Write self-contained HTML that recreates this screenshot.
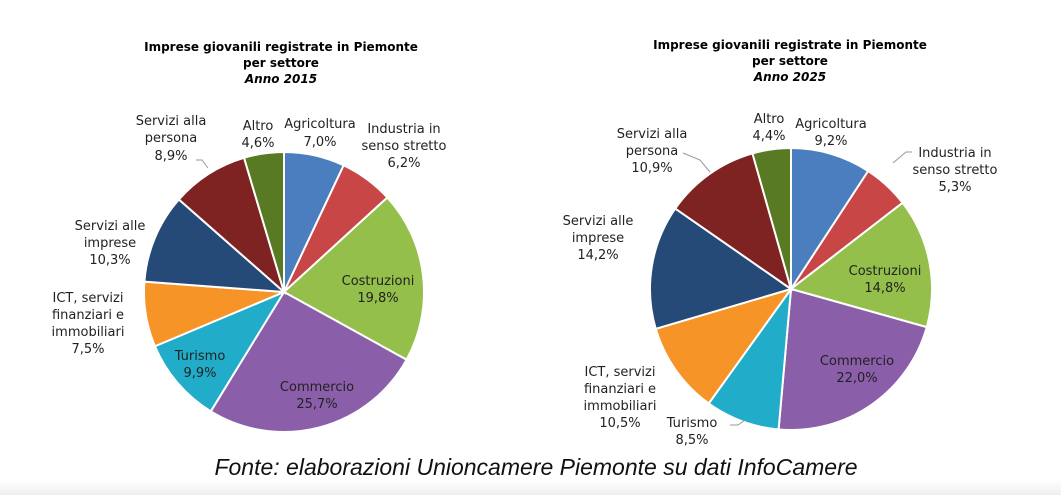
<!DOCTYPE html>
<html><head><meta charset="utf-8"><style>
html,body{margin:0;padding:0;background:#fff;}
body{width:1061px;height:495px;overflow:hidden;position:relative;}
svg{position:absolute;left:0;top:0;}
.t{font-family:"DejaVu Sans","Liberation Sans",sans-serif;font-weight:bold;font-size:12px;text-anchor:middle;fill:#000;}
.l{font-family:"DejaVu Sans","Liberation Sans",sans-serif;font-size:13px;text-anchor:middle;fill:#222;}
.f{font-family:"Liberation Sans",sans-serif;font-style:italic;font-size:23px;text-anchor:middle;fill:#111;}
</style></head><body>
<svg id="s" width="1061" height="495" xmlns="http://www.w3.org/2000/svg">
<defs><linearGradient id="bg" x1="0" y1="0" x2="0" y2="1"><stop offset="0" stop-color="#fff"/><stop offset="1" stop-color="#efefef"/></linearGradient></defs>
<rect x="0" y="480" width="1061" height="15" fill="url(#bg)"/>
<g id="p1"></g><g id="p2"></g>
<text class="t" x="281" y="51">Imprese giovanili registrate in Piemonte</text>
<text class="t" x="281" y="67">per settore</text>
<text class="t" x="281" y="83" font-style="italic">Anno 2015</text>
<text class="t" x="790" y="49">Imprese giovanili registrate in Piemonte</text>
<text class="t" x="790" y="65">per settore</text>
<text class="t" x="790" y="81" font-style="italic">Anno 2025</text>
<g class="l">
<text x="320" y="128">Agricoltura</text><text x="320" y="146">7,0%</text>
<text x="404" y="133">Industria in</text><text x="404" y="150">senso stretto</text><text x="404" y="167">6,2%</text>
<text x="378" y="285">Costruzioni</text><text x="378" y="302">19,8%</text>
<text x="317" y="391">Commercio</text><text x="317" y="408">25,7%</text>
<text x="200" y="360">Turismo</text><text x="200" y="377">9,9%</text>
<text x="88" y="302">ICT, servizi</text><text x="88" y="319">finanziari e</text><text x="88" y="336">immobiliari</text><text x="88" y="353">7,5%</text>
<text x="110" y="230">Servizi alle</text><text x="110" y="247">imprese</text><text x="110" y="264">10,3%</text>
<text x="171" y="125">Servizi alla</text><text x="171" y="142">persona</text><text x="171" y="160">8,9%</text>
<text x="258" y="130">Altro</text><text x="258" y="147">4,6%</text>

<text x="769" y="123">Altro</text><text x="769" y="140">4,4%</text>
<text x="831" y="128">Agricoltura</text><text x="831" y="145">9,2%</text>
<text x="955" y="157">Industria in</text><text x="955" y="174">senso stretto</text><text x="955" y="191">5,3%</text>
<text x="885" y="275">Costruzioni</text><text x="885" y="292">14,8%</text>
<text x="857" y="365">Commercio</text><text x="857" y="382">22,0%</text>
<text x="692" y="427">Turismo</text><text x="692" y="444">8,5%</text>
<text x="620" y="376">ICT, servizi</text><text x="620" y="393">finanziari e</text><text x="620" y="410">immobiliari</text><text x="620" y="427">10,5%</text>
<text x="598" y="225">Servizi alle</text><text x="598" y="242">imprese</text><text x="598" y="259">14,2%</text>
<text x="652" y="138">Servizi alla</text><text x="652" y="155">persona</text><text x="652" y="172">10,9%</text>
</g>
<g stroke="#999" fill="none" stroke-width="1">
<polyline points="196,160 202,160 208,168"/>
<polyline points="683,153 700,160 710,172"/>
<polyline points="912,152 906,152 893,163"/>
<polyline points="730,425 738,425 745,420"/>
</g>
<text class="f" x="536" y="475">Fonte: elaborazioni Unioncamere Piemonte su dati InfoCamere</text>
</svg>
<script>
var cols=["#4a7ebf","#c84646","#94bf4b","#8a5ea8","#21adc9","#f79428","#264a78","#7f2222","#577a22"];
function pie(id,cx,cy,r,v){var g=document.getElementById(id),tot=v.reduce(function(a,b){return a+b},0),a=0,h="";
v.forEach(function(x,i){var a2=a+x/tot*2*Math.PI;var x1=cx+r*Math.sin(a),y1=cy-r*Math.cos(a),x2=cx+r*Math.sin(a2),y2=cy-r*Math.cos(a2);
h+='<path d="M'+cx+','+cy+' L'+x1+','+y1+' A'+r+','+r+' 0 '+((a2-a)>Math.PI?1:0)+' 1 '+x2+','+y2+' Z" fill="'+cols[i]+'" stroke="#fff" stroke-width="2"/>';a=a2;});
g.innerHTML=h;}
pie("p1",284,292,140,[7.0,6.2,19.8,25.7,9.9,7.5,10.3,8.9,4.6]);
pie("p2",791,289,141,[9.2,5.3,14.8,22.0,8.5,10.5,14.2,10.9,4.4]);
</script>
</body></html>
